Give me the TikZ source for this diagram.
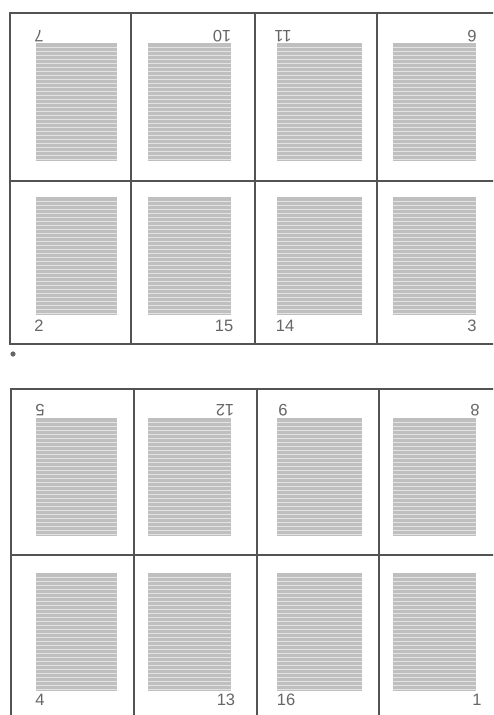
\documentclass[tikz,border=0pt]{standalone}
\usepackage{fontspec}
\setsansfont{Liberation Sans}
\usetikzlibrary{positioning}

\tikzset{
  frame/.style={draw=gray!65!black, line width=1.2pt},
  textgap/.style={draw=gray!22, line width=0.9pt},
  folio/.style={font=\sffamily\fontsize{16.5}{16.5}\selectfont, text=gray!80!black, inner sep=0pt},
  flip/.style={folio, rotate=180}
}

\begin{document}
\begin{tikzpicture}[x=1pt,y=-1pt]
\clip (0,0) rectangle (493,715);
\fill[white] (0,0) rectangle (493,715);
% first sheet
\draw[frame] (10,13) rectangle (500,344);
\draw[frame] (10,181) -- (500,181);
\foreach \x in {131,255,377} \draw[frame] (\x,13) -- (\x,344);
\fill[gray!80!black] (13,354) circle (2.6);
% second sheet
\draw[frame] (11,389) rectangle (500,720);
\draw[frame] (11,555) -- (500,555);
\foreach \x in {134,257,379} \draw[frame] (\x,389) -- (\x,720);
% text blocks
\foreach \bx/\ex in {36/117,148/231,277/362,393/476}
  \foreach \by in {43,197,418,573} {
    \fill[gray!50] (\bx,\by) rectangle (\ex,\by+118);
    \foreach \k in {1,...,29} \draw[textgap] (\bx,\by+4*\k) -- (\ex,\by+4*\k);
  }
% page numbers
\node[flip] (p7) at (39,36) {7};
\node[flip] (p10) at (222,36) {10};
\node[flip] (p11) at (283,36) {11};
\node[flip] (p6) at (472,36) {6};
\node[folio] (p2) at (39,326) {2};
\node[folio] (p15) at (224,326) {15};
\node[folio] (p14) at (285,326) {14};
\node[folio] (p3) at (472,326) {3};
\node[flip] (p5) at (40,410) {5};
\node[flip] (p12) at (225,410) {12};
\node[flip] (p9) at (283,410) {9};
\node[flip] (p8) at (475,410) {8};
\node[folio] (p4) at (40,700) {4};
\node[folio] (p13) at (226,700) {13};
\node[folio] (p16) at (286,700) {16};
\node[folio] (p1) at (477,700) {1};
\end{tikzpicture}
\end{document}
